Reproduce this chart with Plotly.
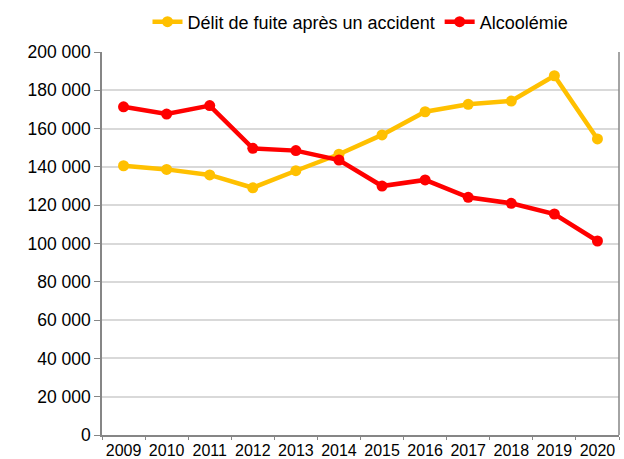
import plotly.graph_objects as go

years = ["2009", "2010", "2011", "2012", "2013", "2014", "2015", "2016", "2017", "2018", "2019", "2020"]
delit_fuite = [140600, 138700, 135800, 129100, 138000, 146600, 156700, 168800, 172700, 174400, 187600, 154600]
alcoolemie = [171400, 167600, 172000, 149700, 148500, 143600, 130000, 133200, 124100, 121000, 115400, 101300]

series_names = ["Délit de fuite après un accident", "Alcoolémie"]
series_colors = ["#FFC000", "#FF0000"]

fig = go.Figure()
for name, vals, col in zip(series_names, [delit_fuite, alcoolemie], series_colors):
    fig.add_trace(go.Scatter(
        x=years, y=vals, name=name, mode="lines+markers",
        line=dict(color=col, width=4.5),
        marker=dict(color=col, size=11),
    ))

fig.update_layout(
    width=624, height=459,
    margin=dict(l=102, r=5, t=52, b=24, autoexpand=False),
    paper_bgcolor="white", plot_bgcolor="white",
    font=dict(family="Liberation Sans, Arial, sans-serif", size=17, color="#000000"),
    separators=", ",
    showlegend=True,
    legend=dict(orientation="h", x=0.5, xanchor="center", xref="paper",
                y=1 - 22 / 459, yanchor="middle", yref="container",
                font=dict(size=18), itemwidth=30,
                bgcolor="rgba(0,0,0,0)", traceorder="normal"),
)
fig.update_xaxes(
    type="category", range=[-0.5, 11.5], automargin=False, tickangle=0,
    showline=True, linecolor="#868686", linewidth=1.5, mirror=False,
    ticks="outside", tickson="boundaries", ticklen=3, tickcolor="#868686",
    showgrid=False, tickfont=dict(size=16), fixedrange=True,
)
fig.update_yaxes(
    range=[0, 200000], tickvals=list(range(0, 200001, 20000)), tickformat=",d",
    automargin=False,
    showline=True, linecolor="#868686", linewidth=1.5,
    ticks="outside", ticklen=6, tickcolor="#868686",
    showgrid=True, gridcolor="#D9D9D9", gridwidth=1.5,
    zeroline=False, tickfont=dict(size=17.5), fixedrange=True,
)
# right border of the plot area
fig.update_layout(shapes=[dict(type="line", xref="paper", yref="paper", x0=1, x1=1, y0=0, y1=1,
                               line=dict(color="#868686", width=1.5))])

fig.write_html("out.html", config={"displayModeBar": False},
               post_script="document.body.style.margin='0';")
